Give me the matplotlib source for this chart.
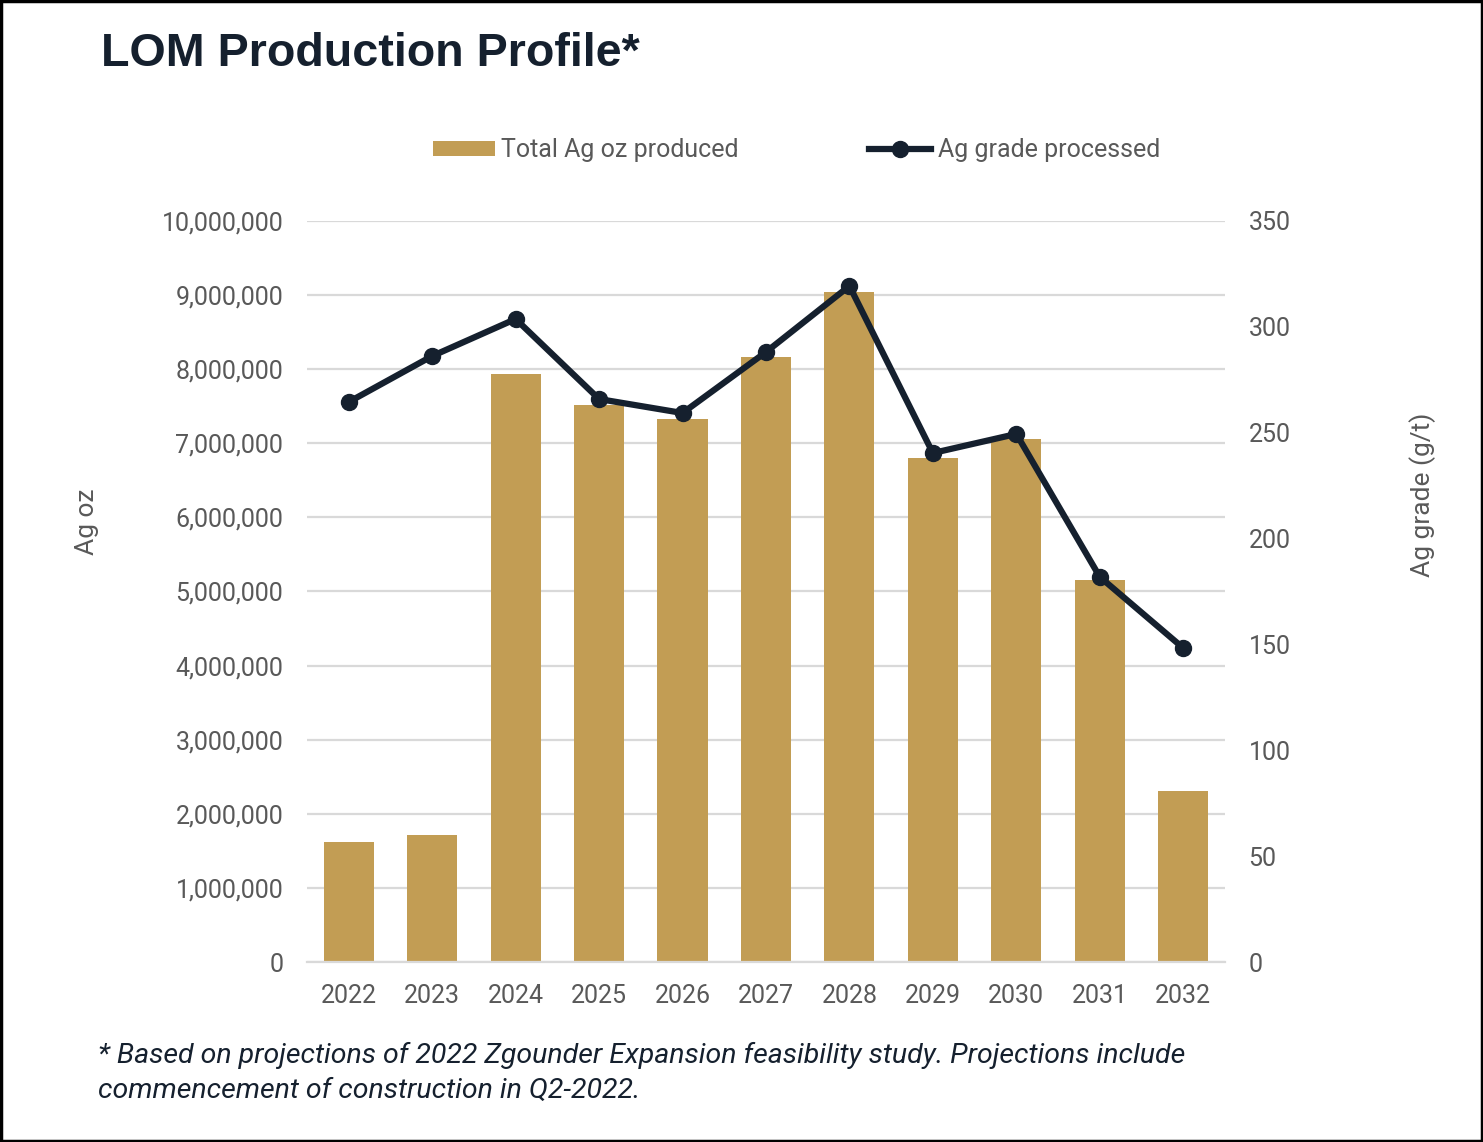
import matplotlib.pyplot as plt
from matplotlib.patches import Rectangle
from matplotlib.ticker import FuncFormatter

# data
years = ['2022', '2023', '2024', '2025', '2026', '2027', '2028', '2029', '2030', '2031', '2032']
ag_oz = [1620000, 1710000, 7940000, 7520000, 7330000, 8160000, 9040000, 6800000, 7060000, 5160000, 2310000]
ag_grade = [264.5, 286.2, 303.7, 265.9, 259.3, 288.1, 319.3, 240.4, 249.4, 181.9, 148.3]

bar_color = '#C29D54'
line_color = '#15202E'
text_gray = '#595959'

plt.rcParams['font.family'] = ['Roboto', 'DejaVu Sans']

fig = plt.figure(figsize=(14.83, 11.42), dpi=100)
ax = fig.add_axes([0.207, 0.1576, 0.619, 0.6489])
ax2 = ax.twinx()

x = list(range(len(years)))
ax.bar(x, ag_oz, width=0.6, color=bar_color, zorder=2, label='Total Ag oz produced')
ax2.plot(x, ag_grade, color=line_color, lw=4.5, marker='o', ms=11.5, zorder=3,
         label='Ag grade processed')

ax.set_xlim(-0.5, len(years) - 0.5)
ax.set_ylim(0, 10000000)
ax.set_yticks(range(0, 10000001, 1000000))
ax.yaxis.set_major_formatter(FuncFormatter(lambda v, p: f'{int(v):,}'))
ax2.set_ylim(0, 350)
ax2.set_yticks(range(0, 351, 50))
ax.set_xticks(x)
ax.set_xticklabels(years)

ax.grid(axis='y', color='#D9D9D9', lw=1.6, zorder=0)
ax.set_axisbelow(True)
for a in (ax, ax2):
    for s in a.spines.values():
        s.set_visible(False)
ax.spines['bottom'].set_visible(True)
ax.spines['bottom'].set_color('#D9D9D9')
ax.spines['bottom'].set_linewidth(1.6)

ax.tick_params(axis='y', length=0, pad=17, labelsize=18, labelcolor=text_gray)
ax.tick_params(axis='x', length=0, pad=16, labelsize=18, labelcolor=text_gray)
ax2.tick_params(axis='y', length=0, pad=17, labelsize=18, labelcolor=text_gray)

# axis titles sit a bit above the axis centre in the reference
fig.text(0.059, 1 - 522 / 1142, 'Ag oz', fontsize=19, color=text_gray,
         rotation=90, ha='center', va='center')
fig.text(0.959, 1 - 495 / 1142, 'Ag grade (g/t)', fontsize=19, color=text_gray,
         rotation=90, ha='center', va='center')

# legend
h1, l1 = ax.get_legend_handles_labels()
h2, l2 = ax2.get_legend_handles_labels()
fig.legend(h1 + h2, l1 + l2, loc='center', bbox_to_anchor=(0.537, 0.8685), ncol=2,
           frameon=False, fontsize=18, labelcolor=text_gray, handlelength=2.5,
           handletextpad=0.25, columnspacing=5.2, handleheight=0.55)

fig.text(0.068, 0.9525, 'LOM Production Profile*', fontsize=33.6, fontweight='bold',
         color=line_color, family=['Liberation Sans', 'DejaVu Sans'], va='center')

fig.text(0.066, 0.0605, '* Based on projections of 2022 Zgounder Expansion feasibility study. '
         'Projections include\ncommencement of construction in Q2-2022.',
         fontsize=20.5, style='italic', color=line_color, va='center', linespacing=1.4)

# black frame around the picture
fig.patches.append(Rectangle((0.001, 0.001), 0.998, 0.998, transform=fig.transFigure,
                             fill=False, edgecolor='black', lw=2.5))

fig.savefig('out.png', dpi=100)
